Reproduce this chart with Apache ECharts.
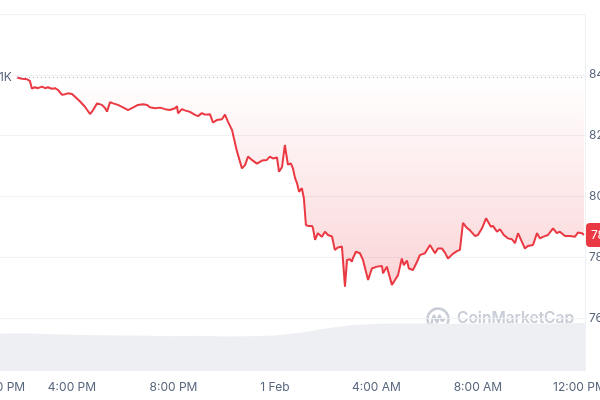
<!DOCTYPE html>
<html><head><meta charset="utf-8">
<script src="https://cdn.jsdelivr.net/npm/echarts@6/dist/echarts.min.js"></script>
<style>html,body{margin:0;padding:0;background:#fff}#c{width:600px;height:400px}</style>
</head><body><div id="c"></div>
<script>
// hours since 31 Jan 00:00
const times = [13.83,14.03,14.23,14.34,14.42,14.54,14.66,14.82,14.94,15.05,
15.21,15.33,15.45,15.61,15.72,15.84,16.00,16.12,16.32,16.51,
16.71,16.83,16.99,17.18,17.30,17.38,17.50,17.62,17.81,18.01,
18.21,18.40,18.60,18.80,18.96,19.07,19.27,19.47,19.67,19.86,
20.06,20.14,20.18,20.33,20.45,20.65,20.85,20.97,21.12,21.24,
21.44,21.56,21.71,21.91,22.03,22.15,22.31,22.38,22.50,22.58,
22.70,22.82,22.94,23.09,23.29,23.49,23.68,23.80,23.92,24.08,
24.16,24.28,24.39,24.51,24.63,24.71,24.79,24.87,24.95,25.06,
25.14,25.22,25.30,25.46,25.50,25.58,25.69,25.85,25.97,26.09,
26.25,26.36,26.48,26.64,26.76,26.84,26.96,27.03,27.07,27.19,
27.35,27.47,27.67,27.74,27.82,28.02,28.22,28.26,28.41,28.61,
28.73,28.85,29.00,29.08,29.20,29.28,29.44,29.60,29.71,29.91,
30.11,30.31,30.42,30.58,30.70,30.82,31.01,31.17,31.29,31.41,
31.57,31.68,31.88,32.00,32.16,32.32,32.39,32.51,32.59,32.75,
32.87,33.02,33.18,33.34,33.46,33.58,33.73,33.85,33.97,34.17,
34.33,34.44,34.56,34.76,34.96,35.11,35.23,35.43,35.63,35.82,
35.94,36.10,36.18];
// price in thousands USD
const prices = [83.91,83.87,83.85,83.80,83.55,83.59,83.56,83.61,83.56,83.59,
83.54,83.56,83.50,83.34,83.36,83.39,83.37,83.28,83.12,82.95,
82.71,82.84,83.06,83.01,82.91,82.79,83.10,83.06,83.01,82.93,
82.84,82.92,83.01,83.03,83.01,82.93,82.90,82.92,82.87,82.84,
82.90,82.97,82.73,82.87,82.83,82.78,82.68,82.64,82.74,82.69,
82.70,82.43,82.51,82.54,82.69,82.45,82.18,81.92,81.49,81.26,
80.92,81.03,81.31,81.20,81.08,81.18,81.20,81.31,81.25,81.28,
80.81,80.97,81.69,81.05,81.08,80.92,80.61,80.43,80.15,80.27,
79.94,79.06,79.03,79.03,78.95,78.57,78.79,78.67,78.84,78.73,
78.68,78.24,78.32,78.35,77.03,77.91,77.93,77.85,77.96,78.18,
78.13,77.91,77.25,77.31,77.63,77.69,77.71,77.47,77.69,77.09,
77.25,77.41,77.96,77.74,77.89,77.63,77.58,77.85,78.07,78.13,
78.40,78.13,78.29,78.29,78.15,77.96,78.11,78.20,78.24,79.13,
78.96,78.89,78.70,78.73,78.95,79.28,79.22,79.00,79.03,78.84,
78.92,78.73,78.62,78.59,78.46,78.79,78.51,78.29,78.37,78.40,
78.79,78.62,78.67,78.73,78.95,78.79,78.84,78.70,78.70,78.67,
78.81,78.79,78.73];
const volTimes = [12,13,14,15,16,17,18,19,20,21,22,23,24,25,26,27,28,29,30,31,32,33,34,35,36,36.22];
const volumes  = [53,52.5,53,52,51,50.5,50,49.5,49,49.5,48.5,49,50,54,60,64.5,66.5,67,67,66.5,67,67.5,67,67,67.5,67.5];
const xTickHours  = [12,16,20,24,28,32,36];
const xTickLabels = ['12:00 PM','4:00 PM','8:00 PM','1 Feb','4:00 AM','8:00 AM','12:00 PM'];
const openPrice = prices[0];
const lastPrice = prices[prices.length-1];
const xMin = 12, xMax = 36.22;

const chart = echarts.init(document.getElementById('c'), null, {renderer:'canvas'});
const grayText = '#58667e';
const gridColor = '#eff2f5';
const red = '#ea3943';
const priceData = times.map((t,i)=>[t, prices[i]]);
const volData = volTimes.map((t,i)=>[t, volumes[i]]);
const wm = '#c7ccd6';

chart.setOption({
  animation:false,
  textStyle:{fontFamily:'Inter, "Noto Sans", sans-serif'},
  grid:[
    {left:-29.5, right:15, top:14, bottom:82, containLabel:false, outerBoundsMode:'none'},
    {left:-29.5, right:15, top:300, bottom:29, containLabel:false, outerBoundsMode:'none'}
  ],
  xAxis:[
    {type:'value', gridIndex:0, min:xMin, max:xMax, interval:4, show:false, splitLine:{show:false}},
    {type:'value', gridIndex:1, min:xMin, max:xMax, interval:4,
     axisLine:{show:false}, axisTick:{show:false}, splitLine:{show:false},
     axisLabel:{color:grayText, fontSize:12, margin:10, alignMinLabel:'left', showMaxLabel:false,
       rich:{first:{color:grayText, fontSize:12, padding:[0,0,0,2]}},
       formatter:v=>{const i=xTickHours.indexOf(v); if(i<0) return ''; return i===0?'{first|'+xTickLabels[i]+'}':xTickLabels[i];}}}
  ],
  yAxis:[
    {type:'value', gridIndex:0, position:'right', min:76, max:86, interval:2,
     axisLine:{show:true, lineStyle:{color:gridColor}}, axisTick:{show:false},
     splitLine:{lineStyle:{color:gridColor}},
     axisLabel:{margin:4, color:grayText, fontSize:12, showMaxLabel:false, formatter:v=>v.toFixed(2)+'K'}},
    {type:'value', gridIndex:1, position:'right', min:0, max:100,
     axisLine:{show:true, lineStyle:{color:gridColor}}, axisTick:{show:false},
     splitLine:{show:false}, axisLabel:{show:false}}
  ],
  series:[
    {type:'line', xAxisIndex:1, yAxisIndex:1, data:volData, symbol:'none',
     lineStyle:{width:0}, areaStyle:{color:'#edeff3', opacity:1}, silent:true},
    {type:'line', xAxisIndex:0, yAxisIndex:0, data:priceData, symbol:'none',
     lineStyle:{color:red, width:2}, itemStyle:{color:red},
     areaStyle:{origin:openPrice, color:new echarts.graphic.LinearGradient(0,0,0,1,[
       {offset:0, color:'rgba(234,57,67,0.0)'},
       {offset:1, color:'rgba(234,57,67,0.3)'}])},
     markLine:{silent:true, symbol:'none', animation:false,
       data:[
         [{coord:[times[0], openPrice],
           lineStyle:{color:'#a6acb9', type:[1,3], width:1},
           label:{show:true, position:'start', distance:5, color:grayText, fontSize:12,
                  formatter:()=>openPrice.toFixed(2)+'K'}},
          {coord:[xMax, openPrice]}],
         {yAxis:lastPrice, lineStyle:{color:'rgba(0,0,0,0)', width:0},
          label:{show:true, position:'end', distance:1, color:'#fff', fontSize:12,
                 backgroundColor:red, padding:[6,5], borderRadius:4,
                 formatter:()=>lastPrice.toFixed(2)+'K'}}
       ]}}
  ],
  graphic:[
    {type:'group', left:425, top:306, children:[
      {type:'circle', shape:{cx:11, cy:11, r:10.5}, style:{fill:'none', stroke:wm, lineWidth:2.4}},
      {type:'polyline', shape:{points:[[4.5,16],[7,7.5],[10,14.5],[12.5,7.5],[15,13],[18,10]], smooth:0.3},
       style:{fill:'none', stroke:wm, lineWidth:2.4}}
    ]},
    {type:'text', left:457, top:310, style:{text:'CoinMarketCap', font:'600 15.5px Inter, sans-serif', fill:wm}}
  ]
});
</script>
</body></html>
